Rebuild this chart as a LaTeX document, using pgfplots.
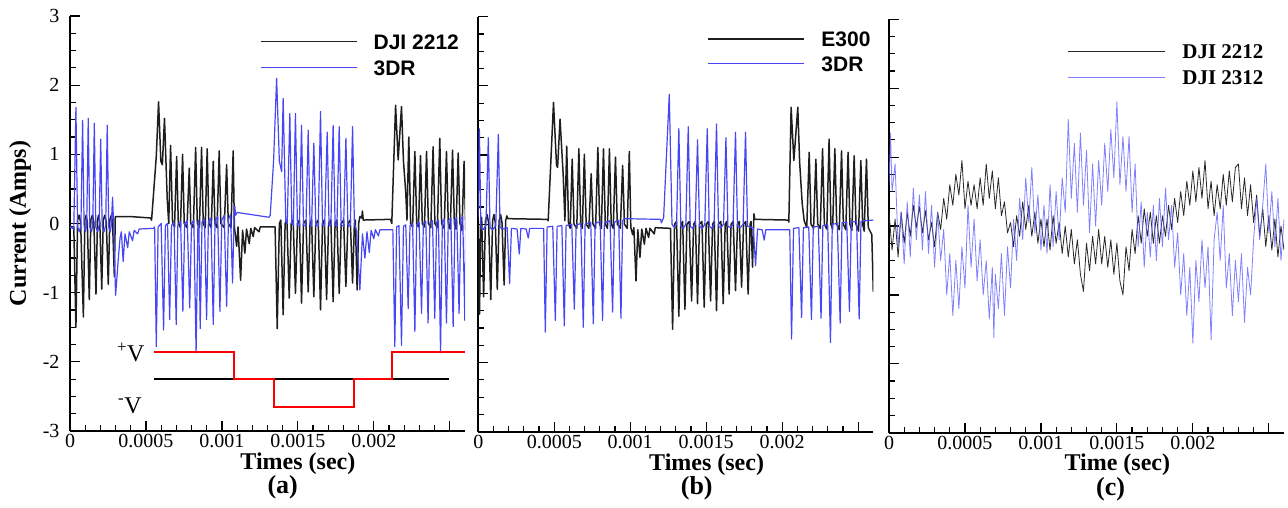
\documentclass[border=0pt]{standalone}
\usepackage{pgfplots}
\pgfplotsset{compat=1.18}
\usepackage{fontspec}
\setmainfont{Liberation Serif}
\newfontfamily\sansfam{Liberation Sans}
\definecolor{sigblack}{RGB}{30,30,30}
\definecolor{sigblue}{RGB}{70,70,245}
\definecolor{cblack}{RGB}{40,40,40}
\definecolor{cblue}{RGB}{95,95,255}
\definecolor{sqred}{RGB}{250,0,0}
\pgfplotsset{
  panel/.style={
    scale only axis, width=395pt, height=415pt,
    xmin=0, xmax=26, ymin=-3, ymax=3,
    axis x line*=bottom, axis y line*=left,
    axis line style={-, line width=1.8pt, black},
    tick align=inside,
    major tick length=10pt, minor tick length=6pt,
    tick style={black, line width=1.2pt},
    minor x tick num=4, minor y tick num=3,
    xtick={0,5,10,15,20,25},
    xticklabels={0,0.0005,0.001,0.0015,0.002,{}},
    ytick={-3,-2,-1,0,1,2,3},
    tick label style={font=\fontsize{20}{20}\selectfont},
    label style={font=\bfseries\fontsize{24}{24}\selectfont},
    xlabel style={at={(axis description cs:0.577,-0.079)}, anchor=center},
    title style={font=\bfseries\fontsize{26}{26}\selectfont, anchor=center},
    legend cell align=left,
    legend image code/.code={\draw[##1] (0pt,0pt) -- (96pt,0pt); \path[draw=none,fill=none] (0pt,0pt) -- (113pt,0pt);},
    legend style={draw=none, fill=none, inner sep=0pt, outer sep=0pt, anchor=west,
      row sep=11pt, nodes={inner sep=0pt, text height=15pt, text depth=0pt}},
  },
  sig/.style={line width=1.5pt, line join=round},
  bsig/.style={line width=1.2pt, line join=round},
  thin sig/.style={line width=0.8pt, line join=round},
}
\begin{document}
\begin{tikzpicture}
\useasboundingbox (0,0) rectangle (1288pt,507pt);
% ---------------- (a) ----------------
\begin{axis}[panel, at={(70pt,76pt)}, anchor=south west,
  yticklabels={-3,-2,-1,0,1,2,3},
  yticklabel style={xshift=-7pt},
  xlabel={Times (sec)},
  ylabel={Current (Amps)},
  ylabel style={at={(axis description cs:-0.1266,0.5)}, anchor=center},
  title={(a)},
  title style={at={(axis description cs:0.5385,-0.150)}},
  legend style={at={(axis cs:12.5,2.44)}, font=\sansfam\bfseries\fontsize{21}{21}\selectfont},
]
\addplot[sig, sigblack] coordinates {
(0,-0.05) (0.25,-0.05) (0.39,-1.5) (0.5,0.05) (0.6,0.12) (0.7,0.02) (0.88,-1.35) (0.98,0.05) (1.06,0.12) (1.14,0.02) (1.27,-1.1) (1.37,0.05) (1.47,0.12) (1.57,0.02) (1.71,-1.02) (1.81,0.05) (1.88,0.12) (1.96,0.02) (2.09,-0.95) (2.19,0.05) (2.29,0.12) (2.39,0.02) (2.52,-0.88) (2.62,0.05) (2.72,0.12) (2.8,0.02) (2.92,-0.77) (2.98,0.1) (4.0,0.1) (5.3,0.08) (5.37,0.05) (5.68,0.97) (5.83,1.76) (5.98,0.9) (6.08,0.85) (6.22,1.52) (6.4,0.35) (6.5,0.0) (6.62,1.13) (6.75,0.02) (6.88,-0.05) (7.02,0.97) (7.13,0.0) (7.27,-0.06) (7.41,1.0) (7.52,0.0) (7.7,-0.06) (7.85,0.8) (7.95,0.0) (8.12,-0.06) (8.27,1.1) (8.38,0.0) (8.52,-0.06) (8.66,1.1) (8.77,0.0) (8.9,-0.06) (9.03,1.08) (9.14,0.0) (9.3,-0.06) (9.43,0.9) (9.54,0.0) (9.68,-0.06) (9.82,1.05) (9.93,0.0) (10.15,-0.06) (10.31,0.85) (10.42,0.0) (10.6,-0.06) (10.74,1.05) (10.82,-0.05) (10.97,-0.33) (11.06,-0.05) (11.23,-0.82) (11.36,-0.1) (11.51,-0.43) (11.62,-0.08) (11.8,-0.29) (11.9,-0.07) (12.06,-0.19) (12.15,-0.06) (12.45,-0.12) (12.52,-0.05) (13.5,-0.05)
(13.64,-1.52) (13.78,0.0) (13.88,0.05) (14.03,-1.32) (14.16,0.0) (14.28,0.05) (14.43,-1.08) (14.56,0.0) (14.69,0.05) (14.84,-1.01) (14.97,0.0) (15.1,0.05) (15.24,-1.15) (15.37,0.0) (15.53,0.05) (15.68,-0.99) (15.8,0.0) (15.9,0.05) (16.05,-1.06) (16.18,0.0) (16.34,0.05) (16.49,-1.25) (16.62,0.0) (16.74,0.05) (16.89,-1.1) (17.02,0.0) (17.17,0.05) (17.32,-1.13) (17.45,0.0) (17.57,0.05) (17.72,-1.01) (17.85,0.0) (18.01,0.05) (18.16,-0.91) (18.29,0.0) (18.45,0.05) (18.6,-0.86) (18.72,0.0) (18.78,0.05) (18.9,-0.96) (19.0,0.0) (19.08,0.1) (19.2,0.08) (19.25,0.18) (19.3,0.05) (21.1,0.06) (21.18,0.0) (21.43,1.71) (21.6,0.92) (21.82,1.69) (21.95,0.9) (22.1,0.45) (22.18,0.05) (22.3,1.25) (22.42,0.0) (22.55,-0.05) (22.7,1.04) (22.82,0.0) (22.94,-0.05) (23.07,0.98) (23.19,0.0) (23.33,-0.05) (23.47,1.04) (23.59,0.0) (23.75,-0.06) (23.9,1.11) (24.02,0.0) (24.18,-0.06) (24.34,1.23) (24.46,0.0) (24.63,-0.07) (24.78,1.04) (24.9,0.0) (25.03,-0.08) (25.18,1.06) (25.3,0.0) (25.41,-0.08) (25.55,1.02) (25.67,0.0) (25.8,-0.1) (25.94,0.9) (26.05,-0.1)
};
\addlegendentry{DJI 2212}
\addplot[bsig, sigblue] coordinates {
(0,-0.05) (0.25,-0.08) (0.39,1.68) (0.5,-0.05) (0.62,-0.12) (0.72,-0.02) (0.83,1.49) (0.93,-0.05) (1.02,-0.12) (1.1,-0.02) (1.2,1.52) (1.3,-0.05) (1.42,-0.12) (1.5,-0.02) (1.6,1.45) (1.7,-0.05) (1.82,-0.12) (1.92,-0.02) (2.02,1.22) (2.12,-0.05) (2.24,-0.12) (2.35,-0.02) (2.45,1.42) (2.55,-0.05) (2.65,-0.12) (2.72,-0.02) (2.8,0.38) (2.88,-0.05) (3.0,-1.04) (3.2,-0.45) (3.3,-0.2) (3.38,-0.12) (3.5,-0.55) (3.62,-0.15) (3.8,-0.35) (3.9,-0.12) (4.12,-0.25) (4.22,-0.1) (4.45,-0.15) (4.55,-0.08) (5.5,-0.07) (5.57,-0.05) (5.68,-1.78) (5.8,-0.05) (6.0,0.0) (6.16,-1.54) (6.28,-0.03) (6.42,0.0) (6.56,-1.39) (6.68,-0.03) (6.85,0.02) (6.99,-1.46) (7.1,-0.02) (7.28,0.03) (7.43,-1.27) (7.55,0.0) (7.72,0.04) (7.88,-1.22) (8.0,0.0) (8.15,0.05) (8.3,-1.87) (8.42,0.0) (8.48,0.05) (8.57,-1.52) (8.69,0.02) (8.85,0.07) (8.99,-1.39) (9.11,0.03) (9.28,0.08) (9.43,-1.46) (9.55,0.04) (9.72,0.1) (9.87,-1.27) (9.99,0.05) (10.15,0.12) (10.31,-1.2) (10.43,0.06) (10.57,0.13) (10.7,-0.86) (10.8,0.1) (10.85,0.25) (10.9,0.12) (11.0,0.16) (13.1,0.09) (13.18,0.12) (13.4,0.9) (13.6,2.1) (13.78,0.9) (13.93,0.75) (14.03,1.81) (14.2,0.05) (14.3,0.0) (14.47,1.59) (14.6,0.0) (14.7,-0.03) (14.84,1.59) (14.97,-0.02) (15.1,-0.04) (15.24,1.42) (15.37,-0.02) (15.53,-0.04) (15.68,1.35) (15.8,-0.02) (15.9,-0.04) (16.05,1.16) (16.18,-0.02) (16.34,-0.04) (16.49,1.62) (16.62,-0.02) (16.76,-0.04) (16.93,1.32) (17.05,-0.02) (17.17,-0.04) (17.32,1.42) (17.45,-0.02) (17.57,-0.04) (17.72,1.4) (17.85,-0.02) (18.01,-0.04) (18.16,1.23) (18.29,-0.02) (18.45,-0.04) (18.6,1.4) (18.72,0.0) (18.85,-0.1) (19.08,-0.96) (19.25,-0.15) (19.41,-0.5) (19.55,-0.12) (19.7,-0.42) (19.82,-0.1) (20.0,-0.22) (20.1,-0.09) (20.3,-0.18) (20.4,-0.09) (21.25,-0.09)
(21.38,-1.78) (21.5,-0.05) (21.65,-0.03) (21.82,-1.76) (21.95,-0.04) (22.1,-0.02) (22.26,-1.23) (22.38,-0.03) (22.55,0.0) (22.7,-1.56) (22.82,-0.02) (22.98,0.02) (23.14,-1.3) (23.26,0.0) (23.42,0.03) (23.57,-1.44) (23.69,0.01) (23.86,0.04) (24.01,-1.37) (24.13,0.02) (24.25,0.05) (24.39,-1.87) (24.51,0.03) (24.63,0.06) (24.78,-1.44) (24.9,0.04) (25.07,0.08) (25.22,-1.49) (25.34,0.05) (25.46,0.09) (25.61,-1.3) (25.73,0.06) (25.85,0.1) (25.99,-1.4) (26.05,0.1)
};
\addlegendentry{3DR}
% voltage schematic
\addplot[forget plot, black, line width=2pt] coordinates {(5.55,-2.25) (24.95,-2.25)};
\addplot[forget plot, sqred, line width=2pt, line join=miter] coordinates {
(5.55,-1.86) (10.81,-1.86) (10.81,-2.25) (13.42,-2.25) (13.42,-2.65) (18.68,-2.65) (18.68,-2.25) (21.21,-2.25) (21.21,-1.86) (26,-1.86)};
\node[anchor=base west, inner sep=0pt, font=\fontsize{24}{24}\selectfont] at (axis cs:3.09,-2.0) {\textsuperscript{+}V};
\node[anchor=base west, inner sep=0pt, font=\fontsize{24}{24}\selectfont] at (axis cs:3.16,-2.74) {\textsuperscript{-}V};
\end{axis}
% ---------------- (b) ----------------
\begin{axis}[panel, at={(478.3pt,75.3pt)}, anchor=south west,
  yticklabels={},
  xlabel={Times (sec)},
  xlabel style={at={(axis description cs:0.578,-0.079)}},
  title={(b)},
  title style={at={(axis description cs:0.553,-0.150)}},
  legend style={at={(axis cs:15.1,2.5)}, row sep=10pt, font=\sansfam\bfseries\fontsize{21}{21}\selectfont},
]
\addplot[sig, sigblack] coordinates {
(0,0.0) (0.08,-1.3) (0.16,0.05) (0.22,0.1) (0.35,-1.05) (0.47,0.05) (0.58,0.14) (0.68,0.02) (0.82,-1.09) (0.94,0.05) (1.03,0.14) (1.12,0.02) (1.25,-0.94) (1.37,0.05) (1.47,0.14) (1.56,0.02) (1.7,-0.88) (1.8,0.05) (1.88,0.12) (1.95,0.08) (4.55,0.07) (4.6,0.05) (4.95,1.76) (5.15,0.85) (5.22,0.82) (5.38,1.52) (5.59,0.7) (5.7,0.05) (5.82,1.13) (5.94,0.0) (6.05,-0.06) (6.18,0.94) (6.3,0.0) (6.48,-0.06) (6.62,1.09) (6.74,0.0) (6.85,-0.06) (6.98,1.01) (7.1,0.0) (7.28,-0.06) (7.43,0.73) (7.55,0.0) (7.72,-0.06) (7.87,1.11) (7.99,0.0) (8.1,-0.06) (8.24,1.09) (8.36,0.0) (8.5,-0.06) (8.63,1.09) (8.75,0.0) (8.88,-0.06) (9.03,0.97) (9.15,0.0) (9.35,-0.06) (9.5,0.85) (9.62,0.0) (9.8,-0.06) (9.94,1.05) (10.04,-0.05) (10.16,-0.15) (10.24,-0.05) (10.38,-0.82) (10.5,-0.08) (10.64,-0.48) (10.76,-0.07) (10.93,-0.29) (11.04,-0.06) (11.21,-0.19) (11.3,-0.06) (11.58,-0.14) (11.65,-0.05) (12.65,-0.06)
(12.79,-1.52) (12.92,0.0) (13.05,0.04) (13.2,-1.33) (13.33,0.0) (13.45,0.04) (13.6,-1.23) (13.73,0.0) (13.88,0.04) (14.04,-1.11) (14.17,0.0) (14.29,0.04) (14.43,-1.15) (14.56,0.0) (14.72,0.04) (14.87,-1.2) (15.0,0.0) (15.14,0.04) (15.29,-1.11) (15.42,0.0) (15.53,0.04) (15.68,-1.25) (15.81,0.0) (15.97,0.04) (16.12,-1.15) (16.25,0.0) (16.36,0.04) (16.51,-1.01) (16.64,0.0) (16.78,0.04) (16.93,-0.96) (17.06,0.0) (17.18,0.04) (17.33,-0.91) (17.46,0.0) (17.61,0.04) (17.76,-1.01) (17.89,0.0) (17.95,0.04) (18.05,-0.62) (18.14,0.15) (18.2,0.07) (20.4,0.06) (20.44,0.03) (20.59,1.69) (20.77,0.92) (21.03,1.69) (21.15,0.9) (21.32,0.3) (21.45,0.05) (21.62,-0.05) (21.78,1.04) (21.9,0.0) (22.07,-0.06) (22.22,0.94) (22.34,0.0) (22.51,-0.06) (22.66,1.09) (22.78,0.0) (22.94,-0.07) (23.09,1.23) (23.21,0.0) (23.32,-0.07) (23.47,1.09) (23.59,0.0) (23.76,-0.08) (23.91,1.06) (24.03,0.0) (24.19,-0.08) (24.34,1.04) (24.46,0.0) (24.59,-0.09) (24.74,0.99) (24.86,0.0) (25.03,-0.1) (25.18,0.92) (25.3,0.0) (25.4,-0.1) (25.55,0.94) (25.67,-0.05) (25.9,-0.15) (26.0,-0.98)
};
\addlegendentry{E300}
\addplot[bsig, sigblue] coordinates {
(0,0.1) (0.07,1.38) (0.17,-0.05) (0.3,-0.08) (0.5,-0.02) (0.66,1.25) (0.77,-0.05) (0.95,-0.08) (1.15,-0.02) (1.32,1.3) (1.43,-0.05) (1.7,-0.07) (1.9,-0.05) (2.06,-0.86) (2.18,-0.06) (2.55,-0.07) (2.7,-0.43) (2.8,-0.06) (3.15,-0.07) (3.29,-0.2) (3.38,-0.06) (4.3,-0.06) (4.41,-1.56) (4.53,-0.04) (4.9,-0.03) (5.07,-1.39) (5.19,-0.03) (5.5,-0.02) (5.66,-1.47) (5.78,-0.02) (6.15,0.0) (6.32,-1.23) (6.44,-0.01) (6.75,0.01) (6.91,-1.49) (7.03,0.0) (7.4,0.03) (7.57,-1.44) (7.69,0.01) (8.02,0.04) (8.18,-1.39) (8.3,0.02) (8.67,0.05) (8.84,-1.27) (8.96,0.03) (9.24,0.06) (9.39,-1.36) (9.5,0.05) (9.6,0.08) (12.0,0.07) (12.05,0.02) (12.15,0.07) (12.2,0.1) (12.57,1.88) (12.75,0.0) (12.9,-0.05) (13.05,0.0) (13.2,1.38) (13.33,-0.03) (13.5,-0.06) (13.66,0.0) (13.82,1.41) (13.95,-0.03) (14.12,-0.06) (14.28,0.0) (14.43,1.22) (14.56,-0.03) (14.75,-0.06) (14.91,0.0) (15.07,1.38) (15.2,-0.03) (15.37,-0.06) (15.52,0.0) (15.68,1.45) (15.81,-0.03) (15.98,-0.05) (16.14,0.0) (16.3,1.25) (16.43,-0.03) (16.6,-0.05) (16.77,0.0) (16.93,1.33) (17.06,-0.03) (17.25,-0.05) (17.43,0.0) (17.59,1.33) (17.72,-0.03) (18.1,-0.05) (18.25,-0.6) (18.38,-0.07) (18.68,-0.08) (18.82,-0.23) (18.92,-0.08) (20.5,-0.08)
(20.62,-1.66) (20.75,-0.06) (21.1,-0.05) (21.28,-1.35) (21.4,-0.05) (21.75,-0.04) (21.93,-1.38) (22.05,-0.04) (22.38,-0.03) (22.56,-1.36) (22.68,-0.02) (23.0,-0.01) (23.18,-1.71) (23.3,0.0) (23.63,0.01) (23.82,-1.43) (23.94,0.02) (24.25,0.03) (24.43,-1.26) (24.55,0.03) (24.9,0.04) (25.07,-1.37) (25.19,0.04) (25.4,0.05) (26.05,0.06)
};
\addlegendentry{3DR}
\end{axis}
% ---------------- (c) ----------------
\begin{axis}[panel, at={(889pt,74.3pt)}, anchor=south west, height=413.4pt,
  yticklabels={},
  xlabel={Time (sec)},
  xlabel style={at={(axis description cs:0.578,-0.078)}},
  title={(c)},
  title style={at={(axis description cs:0.561,-0.151)}},
  legend image code/.code={\draw[#1] (0pt,0pt) -- (97pt,0pt); \path[draw=none,fill=none] (0pt,0pt) -- (114pt,0pt);},
  legend style={at={(axis cs:11.78,2.35)}, font=\bfseries\fontsize{21}{21}\selectfont},
]
\addplot[thin sig, cblack] coordinates {
(0.0,0.20) (0.2,-0.35) (0.4,0.10) (0.6,-0.45) (0.8,0.20) (1.0,-0.25) (1.2,0.20) (1.4,-0.15) (1.6,0.30) (1.8,-0.02) (2.0,0.28) (2.2,-0.10) (2.4,0.22) (2.6,-0.20) (2.8,0.05) (3.0,-0.30) (3.2,0.20) (3.4,-0.05) (3.6,0.40) (3.8,0.10) (4.0,0.60) (4.2,0.30) (4.4,0.75) (4.6,0.45) (4.8,0.95) (5.0,0.25) (5.2,0.65) (5.4,0.30) (5.6,0.60) (5.8,0.25) (6.0,0.70) (6.2,0.30) (6.4,0.90) (6.6,0.40) (6.8,0.80) (7.0,0.25) (7.2,0.70) (7.4,0.15) (7.6,0.35) (7.8,-0.10) (8.0,0.05) (8.2,-0.30) (8.4,0.15) (8.6,-0.15) (8.8,0.35) (9.0,-0.05) (9.2,0.30) (9.4,-0.15) (9.6,0.20) (9.8,-0.25) (10.0,0.10) (10.2,-0.30) (10.4,0.10) (10.6,-0.35) (10.8,0.15) (11.0,-0.25) (11.2,0.05) (11.4,-0.40) (11.6,0.00) (11.8,-0.45) (12.0,-0.05) (12.2,-0.55) (12.4,-0.20) (12.6,-0.70) (12.8,-0.95) (13.0,-0.25) (13.2,-0.65) (13.4,-0.15) (13.6,-0.55) (13.8,-0.05) (14.0,-0.55) (14.2,-0.15) (14.4,-0.60) (14.6,-0.20) (14.8,-0.70) (15.0,-0.25) (15.2,-0.80) (15.4,-1.00) (15.6,-0.30) (15.8,-0.65) (16.0,-0.05) (16.2,-0.40) (16.4,0.15) (16.6,-0.25) (16.8,0.25) (17.0,-0.15) (17.2,0.20) (17.4,-0.25) (17.6,0.15) (17.8,-0.25) (18.0,0.15) (18.2,-0.15) (18.4,0.30) (18.6,-0.05) (18.8,0.40) (19.0,0.05) (19.2,0.50) (19.4,0.15) (19.6,0.65) (19.8,0.30) (20.0,0.80) (20.2,0.35) (20.4,0.85) (20.6,0.40) (20.8,0.95) (21.0,0.25) (21.2,0.65) (21.4,0.15) (21.6,0.60) (21.8,0.25) (22.0,0.75) (22.2,0.30) (22.4,0.80) (22.6,0.35) (22.8,0.85) (23.0,0.90) (23.2,0.25) (23.4,0.70) (23.6,0.15) (23.8,0.60) (24.0,0.05) (24.2,0.45) (24.4,-0.15) (24.6,0.25) (24.8,-0.30) (25.0,0.15) (25.2,-0.35) (25.4,0.10) (25.6,-0.45) (25.8,0.00) (26.0,-0.35)
};
\addlegendentry{DJI 2212}
\addplot[thin sig, cblue, opacity=0.8] coordinates {
(0.0,0.6) (0.1,1.35) (0.2,0.5) (0.4,0.9) (0.6,-0.3) (0.8,0.2) (1.0,-0.55) (1.2,0.35) (1.4,-0.45) (1.6,0.55) (1.8,-0.2) (2.0,0.45) (2.2,-0.35) (2.4,0.5) (2.6,-0.4) (2.8,0.3) (3.0,-0.6) (3.2,0.2) (3.4,-0.5) (3.6,-0.05) (3.8,-1.0) (4.0,-0.4) (4.2,-1.3) (4.4,-0.5) (4.6,-1.2) (4.8,-0.3) (5.0,-0.9) (5.2,0.3) (5.4,-0.6) (5.6,0.1) (5.8,-0.8) (6.0,-0.2) (6.2,-1.0) (6.4,-0.5) (6.6,-1.35) (6.8,-0.6) (6.9,-1.62) (7.0,-0.7) (7.2,-1.2) (7.4,-0.4) (7.6,-1.3) (7.8,-0.3) (8.0,-0.9) (8.2,0.1) (8.4,-0.5) (8.6,0.4) (8.8,-0.2) (9.0,0.7) (9.2,0.05) (9.4,0.85) (9.6,-0.1) (9.8,0.45) (10.0,-0.35) (10.2,0.3) (10.4,-0.4) (10.6,0.6) (10.8,-0.3) (11.0,0.5) (11.2,-0.2) (11.4,0.7) (11.6,0.2) (11.8,1.55) (12.0,0.4) (12.2,1.2) (12.4,0.2) (12.6,1.35) (12.8,0.3) (13.0,1.1) (13.2,-0.1) (13.4,0.9) (13.6,0.0) (13.8,0.95) (14.0,0.3) (14.2,1.2) (14.4,0.5) (14.6,1.4) (14.8,0.7) (15.0,1.8) (15.2,0.6) (15.4,1.3) (15.6,0.5) (15.8,1.3) (16.0,0.2) (16.2,0.9) (16.4,-0.3) (16.6,0.35) (16.8,-0.6) (17.0,0.2) (17.2,-0.45) (17.4,0.3) (17.6,-0.5) (17.8,0.4) (18.0,-0.3) (18.2,0.55) (18.4,-0.2) (18.6,0.3) (18.8,-0.6) (19.0,-0.1) (19.2,-1.0) (19.4,-0.4) (19.6,-1.3) (19.8,-0.6) (20.0,-1.7) (20.2,-0.5) (20.4,-1.1) (20.6,-0.2) (20.8,-0.9) (21.0,-0.3) (21.2,-1.65) (21.4,-0.2) (21.6,0.2) (21.8,-0.5) (22.0,0.3) (22.2,-0.9) (22.4,-0.4) (22.6,-1.3) (22.8,-0.5) (23.0,-1.1) (23.2,-0.4) (23.4,-1.4) (23.6,-0.6) (23.8,-1.0) (24.0,-0.2) (24.2,0.4) (24.4,-0.2) (24.6,0.3) (24.8,0.9) (25.0,-0.1) (25.2,0.5) (25.4,-0.3) (25.6,0.4) (25.8,-0.5) (26.0,0.1)
};
\addlegendentry{DJI 2312}
\end{axis}
\end{tikzpicture}
\end{document}
